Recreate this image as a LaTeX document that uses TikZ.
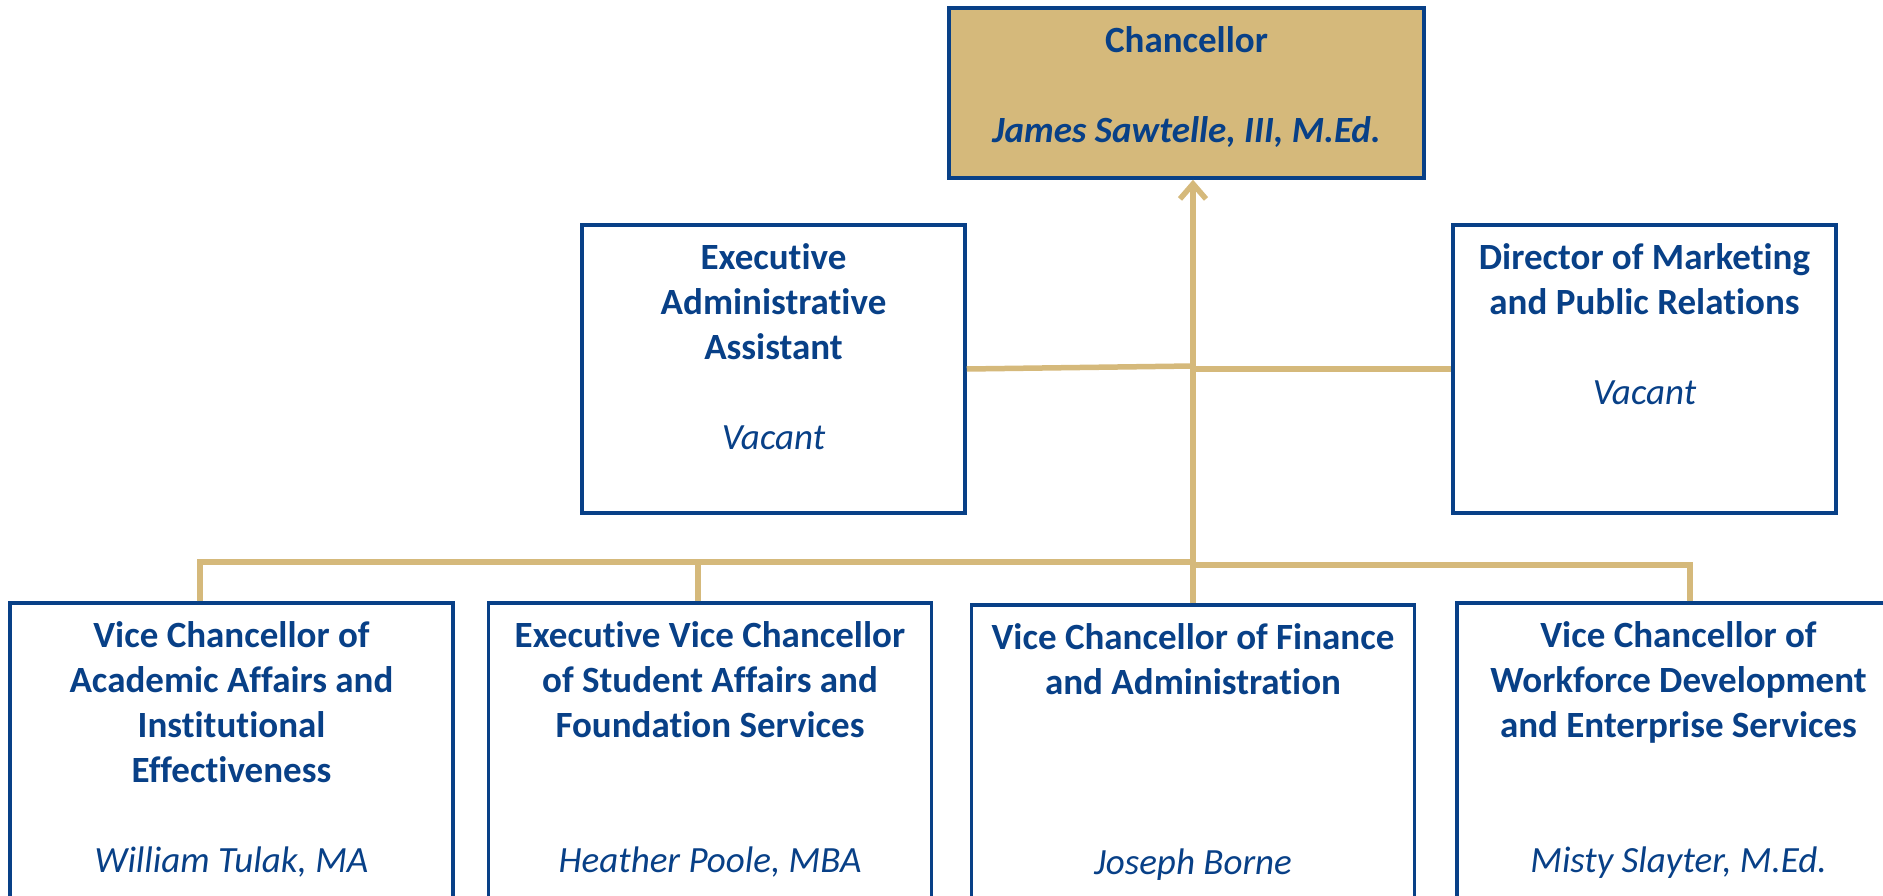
\documentclass[tikz,border=0pt]{standalone}
\usepackage{fontspec}
\setmainfont[Ligatures=NoCommon]{Carlito}
\usetikzlibrary{positioning,arrows.meta}

\definecolor{navy}{RGB}{8,64,135}
\definecolor{tan}{RGB}{213,185,123}

\tikzset{
  orgbox/.style={draw=navy, line width=3.5pt},
  topbox/.style={orgbox, minimum width=383pt, minimum height=288pt},
  lowbox/.style={orgbox, minimum width=443pt, minimum height=360pt},
  orgtext/.style={text=navy, font=\fontsize{37}{45}\selectfont\bfseries,
    align=center, inner sep=0pt, execute at begin node=\strut},
  conn/.style={draw=tan, line width=5.5pt, line join=miter}
}

\begin{document}
\begin{tikzpicture}[x=1pt, y=-1pt]
    \useasboundingbox (0,0) rectangle (1883,896);
    \clip (0,0) rectangle (1883,896);

    % Boxes
    \node[orgbox, fill=tan, minimum width=475pt, minimum height=170pt] (chan) at (1186.5,93) {};
    \node[topbox] (asst) at (773.5,369) {};
    \node[topbox] (dir) at (1644.5,369) {};
    \node[lowbox] (vcaa) at (231.5,783) {};
    \node[lowbox] (evcs) at (710,783) {};
    \node[lowbox] (vcfa) at (1193,785) {};
    \node[lowbox] (vcwd) at (1678.5,783) {};

    % Texts
    \node[orgtext, below=20pt of chan.north] {Chancellor\\[45pt]\textit{James Sawtelle, III, M.Ed.}};
    \node[orgtext, below=20pt of asst.north] {Executive\\Administrative\\Assistant\\[45pt]\mdseries\itshape Vacant};
    \node[orgtext, below=20pt of dir.north] {Director of Marketing\\and Public Relations\\[45pt]\mdseries\itshape Vacant};
    \node[orgtext, below=20pt of vcaa.north] {Vice Chancellor of\\Academic Affairs and\\Institutional\\Effectiveness\\[45pt]\mdseries\itshape William Tulak, MA};
    \node[orgtext, below=20pt of evcs.north] {Executive Vice Chancellor\\of Student Affairs and\\Foundation Services\\[90pt]\mdseries\itshape Heather Poole, MBA};
    \node[orgtext, below=20pt of vcfa.north] {Vice Chancellor of Finance\\and Administration\\[135pt]\mdseries\itshape Joseph Borne};
    \node[orgtext, below=20pt of vcwd.north] {Vice Chancellor of\\Workforce Development\\and Enterprise Services\\[90pt]\mdseries\itshape Misty Slayter, M.Ed.};

    % Connectors
    \coordinate (hub) at (1193,366);
    \coordinate (d1) at (200,562);
    \coordinate (d2) at (698,562);
    \coordinate (d4) at (1690,565);
    \draw[conn, -{Straight Barb[length=15pt, width=26pt]}] (vcfa.north) -- (vcfa.north |- chan.south);
    \draw[conn] (asst.east) -- (hub);
    \draw[conn] (hub |- dir.west) -- (dir.west);
    \draw[conn] (d1 |- vcaa.north) -- (d1) -- (d1 -| vcfa.north);
    \draw[conn] (d2) -- (d2 |- evcs.north);
    \draw[conn] (d4 |- vcwd.north) -- (d4) -- (d4 -| vcfa.north);
\end{tikzpicture}
\end{document}
